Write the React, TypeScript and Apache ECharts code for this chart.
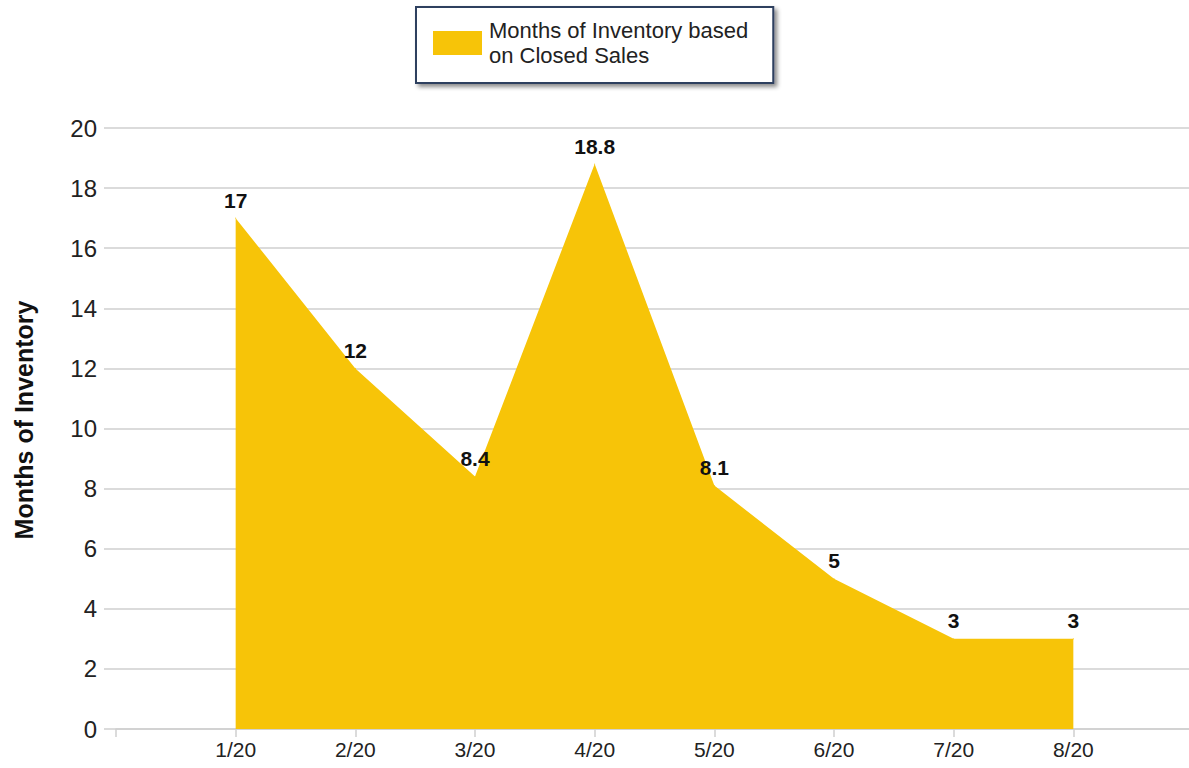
import React, { useEffect, useRef } from "react";
import * as echarts from "echarts";

const categories = ["1/20", "2/20", "3/20", "4/20", "5/20", "6/20", "7/20", "8/20"];
const values = [17, 12, 8.4, 18.8, 8.1, 5, 3, 3];
const seriesName = "Months of Inventory based\non Closed Sales";
const yAxisTitle = "Months of Inventory";

export default function App() {
  const ref = useRef<HTMLDivElement>(null);
  useEffect(() => {
    if (!ref.current) return;
    const chart = echarts.init(ref.current, undefined, { renderer: "svg" });
    const font = "Liberation Sans";
    const data = values.map((v, i) => [i + 1, v]);
    chart.setOption({
      animation: false,
      backgroundColor: "#ffffff",
      textStyle: { fontFamily: font },
      legend: {
        left: 416,
        top: 7,
        orient: "vertical",
        padding: [11, 25, 15, 17],
        itemWidth: 49,
        itemHeight: 24,
        backgroundColor: "#ffffff",
        borderColor: "#2f3f5f",
        borderWidth: 2,
        borderRadius: 0,
        shadowBlur: 4,
        shadowColor: "rgba(0,0,0,0.45)",
        shadowOffsetX: 3,
        shadowOffsetY: 3,
        textStyle: { fontSize: 22, color: "#222", lineHeight: 25, fontFamily: font, padding: [0, 0, 0, 2] },
        data: [{ name: seriesName, icon: "rect" }],
      },
      graphic: [
        {
          type: "text",
          x: 24,
          y: 420,
          rotation: Math.PI / 2,
          style: {
            text: yAxisTitle,
            fontSize: 25,
            fontWeight: "bold",
            fill: "#111",
            fontFamily: font,
            align: "center",
            verticalAlign: "middle",
          },
        },
      ],
      grid: { left: 116, right: -4, top: 128, bottom: 39, containLabel: false, outerBoundsMode: "none" },
      xAxis: {
        type: "value",
        min: 0,
        max: 9,
        interval: 1,
        axisLine: { show: true, lineStyle: { color: "#cfcfcf", width: 1.5 } },
        axisTick: { show: true, length: 8, lineStyle: { color: "#cfcfcf", width: 1.5 } },
        splitLine: { show: false },
        axisLabel: {
          fontSize: 21,
          color: "#222",
          margin: 10,
          formatter: (v: number) => (v >= 1 && v <= categories.length ? categories[v - 1] : ""),
        },
      },
      yAxis: {
        type: "value",
        min: 0,
        max: 20,
        interval: 2,
        axisLine: { show: false },
        axisTick: { show: true, length: 12, lineStyle: { color: "#cfcfcf", width: 1.5 } },
        splitLine: { show: true, lineStyle: { color: "#cfcfcf", width: 1.5 } },
        axisLabel: { fontSize: 24, color: "#222", margin: 19 },
      },
      series: [
        {
          name: seriesName,
          type: "line",
          data,
          symbol: "circle",
          symbolSize: 1,
          showSymbol: true,
          lineStyle: { width: 0, color: "#F7C408" },
          itemStyle: { color: "#F7C408" },
          areaStyle: { color: "#F7C408", opacity: 1 },
          label: {
            show: true,
            position: "top",
            distance: 7,
            fontSize: 21,
            fontWeight: "bold",
            color: "#111",
            fontFamily: font,
            formatter: (p: any) => String(p.value[1]),
          },
        },
      ],
    });
    return () => chart.dispose();
  }, []);
  return <div ref={ref} style={{ position: "fixed", left: 0, top: 0, width: 1189, height: 768 }} />;
}
